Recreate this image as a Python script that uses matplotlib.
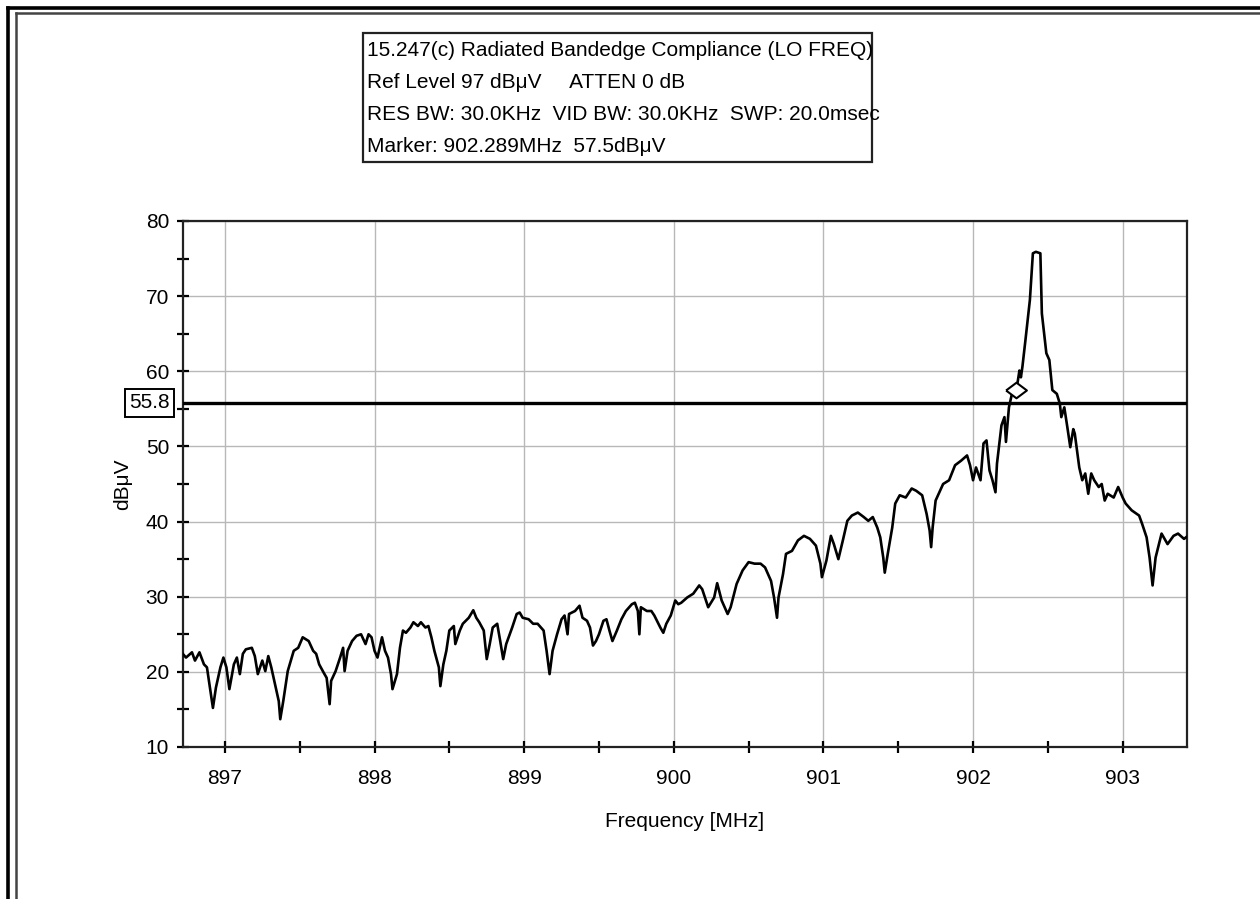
import matplotlib

matplotlib.use("Agg")

import matplotlib.pyplot as plt
from matplotlib.lines import Line2D
from matplotlib.path import Path as MplPath
from matplotlib.ticker import MultipleLocator
from matplotlib.transforms import blended_transform_factory

# spectrum trace
FREQ_MHZ = [
    896.71, 896.74, 896.78, 896.80, 896.83, 896.86, 896.88, 896.90, 896.92, 896.94,
    896.97, 896.99, 897.01, 897.03, 897.06, 897.08, 897.10, 897.12, 897.14, 897.18,
    897.20, 897.22, 897.25, 897.27, 897.29, 897.31, 897.33, 897.36, 897.37, 897.39,
    897.42, 897.46, 897.49, 897.52, 897.56, 897.59, 897.61, 897.63, 897.66, 897.68,
    897.70, 897.71, 897.74, 897.77, 897.79, 897.80, 897.82, 897.85, 897.88, 897.91,
    897.94, 897.96, 897.98, 898.00, 898.02, 898.05, 898.07, 898.09, 898.11, 898.12,
    898.15, 898.17, 898.19, 898.21, 898.24, 898.26, 898.29, 898.31, 898.34, 898.36,
    898.38, 898.40, 898.43, 898.44, 898.46, 898.48, 898.50, 898.53, 898.54, 898.57,
    898.59, 898.63, 898.66, 898.68, 898.70, 898.73, 898.75, 898.77, 898.79, 898.82,
    898.84, 898.86, 898.88, 898.92, 898.95, 898.97, 898.99, 899.03, 899.06, 899.09,
    899.13, 899.15, 899.17, 899.19, 899.22, 899.25, 899.27, 899.29, 899.30, 899.34,
    899.37, 899.39, 899.42, 899.44, 899.46, 899.48, 899.50, 899.53, 899.55, 899.57,
    899.59, 899.62, 899.65, 899.68, 899.72, 899.74, 899.76, 899.77, 899.78, 899.82,
    899.85, 899.87, 899.91, 899.93, 899.95, 899.98, 900.01, 900.03,
    900.05, 900.09, 900.13, 900.17, 900.19, 900.23, 900.27, 900.29, 900.32, 900.36,
    900.38, 900.42, 900.46, 900.50, 900.54, 900.58, 900.61, 900.65, 900.67, 900.69,
    900.70, 900.73, 900.75, 900.79, 900.83, 900.87, 900.91, 900.95, 900.98, 900.99,
    901.02, 901.05, 901.07, 901.10, 901.13, 901.16, 901.19, 901.23, 901.27, 901.30,
    901.33, 901.36, 901.38, 901.40, 901.41, 901.43, 901.46, 901.48, 901.51, 901.55,
    901.59, 901.62, 901.66, 901.69, 901.71, 901.72, 901.73, 901.75, 901.78, 901.80,
    901.84, 901.88, 901.92, 901.96, 901.98, 902.00, 902.02, 902.05, 902.07, 902.09,
    902.11, 902.13, 902.15, 902.16, 902.19, 902.21, 902.22, 902.24, 902.26, 902.29,
    902.31, 902.32, 902.33, 902.35, 902.38, 902.40, 902.42, 902.45, 902.46, 902.49,
    902.51, 902.53, 902.56, 902.58, 902.59, 902.61, 902.63, 902.65, 902.67, 902.68,
    902.71, 902.73, 902.75, 902.77, 902.79, 902.81, 902.84, 902.86, 902.88, 902.90,
    902.94, 902.97, 903.00, 903.02, 903.06, 903.11, 903.13, 903.16, 903.18, 903.20,
    903.22, 903.26, 903.30, 903.34, 903.37, 903.41, 903.43,
]
LEVEL_DBUV = [
    22.6, 21.9, 22.6, 21.5, 22.6, 21.0, 20.6, 17.9, 15.2, 17.9,
    20.6, 21.9, 20.6, 17.7, 21.0, 21.9, 19.7, 22.4, 23.0, 23.2,
    22.1, 19.7, 21.5, 20.1, 22.1, 20.6, 18.8, 16.1, 13.7, 16.1,
    20.1, 22.8, 23.2, 24.6, 24.1, 22.8, 22.4, 21.0, 19.9, 19.2,
    15.7, 18.8, 20.1, 21.9, 23.2, 20.1, 22.8, 24.1, 24.8, 25.0,
    23.7, 25.0, 24.6, 22.8, 21.9, 24.6, 22.8, 21.9, 19.7, 17.7,
    19.7, 23.2, 25.5, 25.2, 25.9, 26.6, 26.1, 26.6, 25.9, 26.1,
    24.6, 22.8, 20.6, 18.1, 21.0, 22.8, 25.5, 26.1, 23.7, 25.5,
    26.4, 27.2, 28.2, 27.2, 26.6, 25.5, 21.7, 23.7, 25.9, 26.4,
    24.1, 21.7, 23.7, 25.9, 27.7, 27.9, 27.2, 27.0, 26.4, 26.4,
    25.5, 22.8, 19.7, 22.8, 25.0, 27.0, 27.5, 25.0, 27.7, 28.1,
    28.8, 27.2, 26.8, 25.9, 23.5, 24.1, 25.0, 26.8, 27.0, 25.5,
    24.1, 25.5, 27.0, 28.1, 29.0, 29.2, 28.1, 25.0, 28.6, 28.1,
    28.1, 27.5, 25.9, 25.2, 26.4, 27.5, 29.5, 29.0,
    29.2, 29.9, 30.4, 31.5, 31.0, 28.6, 29.9, 31.8, 29.5, 27.7,
    28.6, 31.7, 33.5, 34.6, 34.4, 34.4, 33.9, 32.1, 29.9, 27.2,
    29.9, 33.0, 35.7, 36.1, 37.5, 38.1, 37.7, 36.8, 34.4, 32.6,
    34.8, 38.1, 37.0, 35.0, 37.5, 40.1, 40.8, 41.2, 40.6, 40.1,
    40.6, 39.2, 37.9, 35.2, 33.2, 35.7, 39.2, 42.4, 43.5, 43.2,
    44.4, 44.1, 43.5, 41.0, 38.8, 36.6, 39.2, 42.8, 44.1, 45.0,
    45.5, 47.5, 48.1, 48.8, 47.5, 45.5, 47.2, 45.5, 50.4, 50.8,
    46.8, 45.5, 43.9, 47.7, 52.8, 53.9, 50.6, 55.2, 57.0, 57.5,
    60.1, 59.2, 60.6, 64.1, 69.5, 75.7, 75.9, 75.7, 67.7, 62.4,
    61.5, 57.5, 57.0, 55.7, 53.9, 55.2, 52.6, 49.9, 52.3, 51.7,
    47.2, 45.5, 46.4, 43.7, 46.4, 45.5, 44.6, 45.0, 42.8, 43.7,
    43.2, 44.6, 43.2, 42.4, 41.5, 40.8, 39.7, 37.9, 35.2, 31.5,
    35.2, 38.4, 37.0, 38.1, 38.4, 37.7, 38.0,
]

LIMIT_DBUV = 55.8
MARKER_FREQ = 902.289
MARKER_LEVEL = 57.5

X_RANGE = (896.72, 903.43)
Y_RANGE = (10, 80)

HEADER_LINES = [
    "15.247(c) Radiated Bandedge Compliance (LO FREQ)",
    "Ref Level 97 dB\u03bcV     ATTEN 0 dB",
    "RES BW: 30.0KHz  VID BW: 30.0KHz  SWP: 20.0msec",
    "Marker: 902.289MHz  57.5dB\u03bcV",
]

FONT = ["Liberation Sans", "DejaVu Sans"]
W, H = 1260, 899

plt.rcParams["font.family"] = FONT
plt.rcParams["font.size"] = 15

fig = plt.figure(figsize=(W / 100, H / 100), dpi=100)
fig.patch.set_facecolor("white")


def px_x(x):
    return x / W


def px_y(y):
    return 1 - y / H


# double frame on the left and top edges
fig.add_artist(Line2D([px_x(8), px_x(8)], [px_y(8), 0], color="black", lw=2.6))
fig.add_artist(Line2D([px_x(8), 1], [px_y(8), px_y(8)], color="black", lw=2.6))
fig.add_artist(Line2D([px_x(16), px_x(16)], [px_y(13), 0], color="#444444", lw=1.8))
fig.add_artist(Line2D([px_x(16), 1], [px_y(13), px_y(13)], color="#444444", lw=1.8))

ax = fig.add_axes([px_x(183), px_y(747), (1187 - 183) / W, (747 - 221) / H])
ax.plot(FREQ_MHZ, LEVEL_DBUV, color="black", lw=1.9, zorder=3)
ax.axhline(LIMIT_DBUV, color="black", lw=2.4, zorder=4)

diamond = MplPath([(-1, 0), (0, 0.75), (1, 0), (0, -0.75), (-1, 0)])
ax.plot([MARKER_FREQ], [MARKER_LEVEL], marker=diamond, markersize=15,
        markerfacecolor="white", markeredgecolor="black", markeredgewidth=1.5, zorder=5)

ax.set_xlim(*X_RANGE)
ax.set_ylim(*Y_RANGE)
ax.xaxis.set_major_locator(MultipleLocator(1))
ax.xaxis.set_minor_locator(MultipleLocator(0.5))
ax.yaxis.set_major_locator(MultipleLocator(10))
ax.yaxis.set_minor_locator(MultipleLocator(5))
ax.tick_params(which="both", direction="inout", length=8, width=1.6, color="black",
               labelsize=15)
ax.tick_params(axis="x", which="both", pad=12)
ax.tick_params(axis="y", which="both", pad=6)
ax.grid(True, which="major", color="#b8b8b8", lw=1.0)
for spine in ax.spines.values():
    spine.set_linewidth(1.6)
    spine.set_color("#222222")

ax.set_xlabel("Frequency [MHz]", fontsize=15, labelpad=17)
ax.set_ylabel("dB\u03bcV", fontsize=15, labelpad=10)

# limit value tag left of the axis
tag = blended_transform_factory(ax.transAxes, ax.transData)
ax.text(-0.033, LIMIT_DBUV, "55.8", transform=tag, ha="center", va="center",
        fontsize=15, bbox=dict(boxstyle="square,pad=0.2", facecolor="white",
                               edgecolor="black", lw=1.4), zorder=6)

# header box with analyzer settings
fig.add_artist(plt.Rectangle((px_x(363), px_y(162)), (872 - 363) / W, (162 - 33) / H,
                             facecolor="white", edgecolor="#222222", lw=1.6,
                             transform=fig.transFigure))
for i, line in enumerate(HEADER_LINES):
    fig.text(px_x(367), px_y(50 + i * 32), line, ha="left", va="center", fontsize=15)

fig.savefig("out.png", dpi=100)
